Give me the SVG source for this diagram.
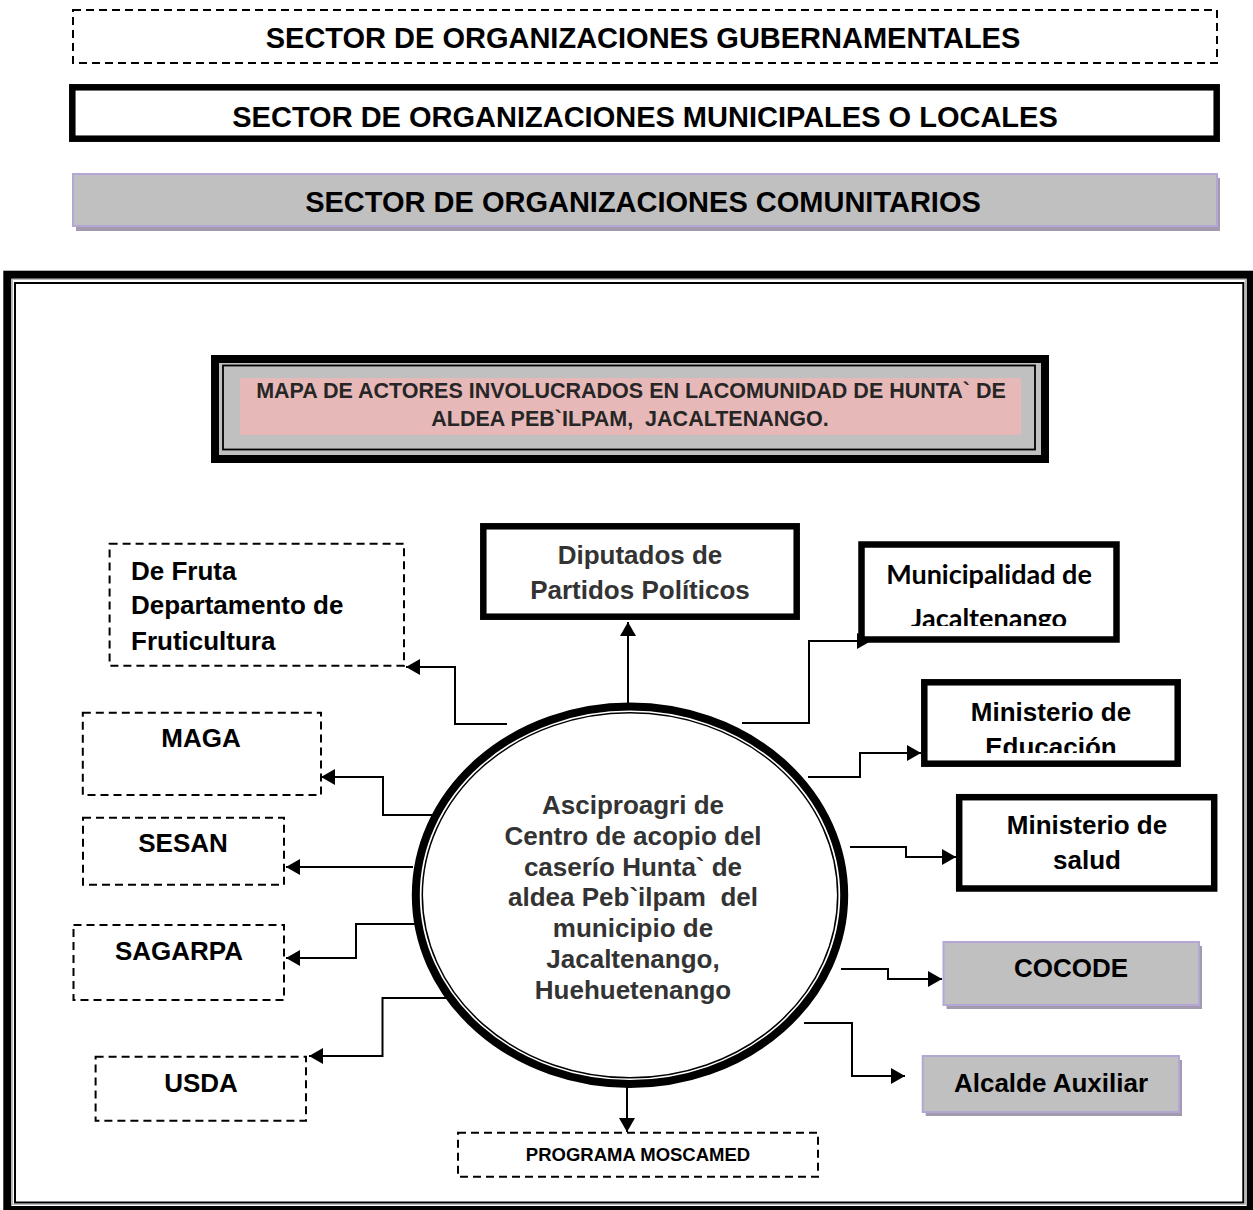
<svg xmlns="http://www.w3.org/2000/svg" width="1253" height="1210" viewBox="0 0 1253 1210">
<defs>
<style>
.t{font-family:"Liberation Sans",Arial,sans-serif;font-weight:bold;text-anchor:middle;fill:#000}
.tl{font-family:"Liberation Sans",Arial,sans-serif;font-weight:bold;fill:#000}
.cal{font-family:Lato,"Liberation Sans",sans-serif;font-weight:bold;text-anchor:middle;fill:#000}
.dash{fill:#fff;stroke:#000;stroke-width:2;stroke-dasharray:8 5}
.thick{fill:#fff;stroke:#000;stroke-width:6.5}
.comm{fill:#c0c0c0;stroke:#b4a7d6;stroke-width:2}
.shadow{fill:#a39bad}
.conn{fill:none;stroke:#000;stroke-width:2;marker-end:url(#arr)}
</style>
<marker id="arr" viewBox="0 0 14 16" refX="14" refY="8" markerWidth="14" markerHeight="16" markerUnits="userSpaceOnUse" orient="auto"><path d="M0,0 L14,8 L0,16 z" fill="#000"/></marker>
<clipPath id="clipMuni"><rect x="862" y="546" width="254" height="80"/></clipPath>
<clipPath id="clipEdu"><rect x="925" y="684" width="252" height="69"/></clipPath>
</defs>
<rect width="1253" height="1210" fill="#fff"/>

<g id="legend-gubernamentales">
<rect class="dash" x="73" y="10" width="1144" height="53"/>
<text class="t" x="643" y="48" font-size="29">SECTOR DE ORGANIZACIONES GUBERNAMENTALES</text>
</g>
<g id="legend-municipales">
<rect class="thick" x="72.3" y="87.3" width="1144.4" height="51.4"/>
<text class="t" x="645" y="127" font-size="29">SECTOR DE ORGANIZACIONES MUNICIPALES O LOCALES</text>
</g>
<g id="legend-comunitarios">
<rect class="shadow" x="76" y="178" width="1144" height="53"/>
<rect class="comm" x="73" y="174" width="1144" height="52"/>
<text class="t" x="643" y="212" font-size="29">SECTOR DE ORGANIZACIONES COMUNITARIOS</text>
</g>

<g id="frame">
<rect x="7.3" y="274.7" width="1243.4" height="935.3" fill="none" stroke="#000" stroke-width="8"/>
<rect x="12.3" y="279.3" width="1233" height="925" fill="none" stroke="#aaa" stroke-width="1"/>
<rect x="15" y="283" width="1228.3" height="919.5" fill="none" stroke="#000" stroke-width="2"/>
</g>

<g id="title">
<rect x="211" y="355" width="838" height="108" fill="#c0c0c0"/>
<rect x="215" y="359" width="830" height="100" fill="none" stroke="#000" stroke-width="8"/>
<rect x="223" y="365.5" width="812" height="84" fill="none" stroke="#000" stroke-width="1.8"/>
<rect x="240" y="378" width="781" height="57" fill="#e6b9b8"/>
<text class="t" x="631" y="398" font-size="21.5" style="fill:#262626">MAPA DE ACTORES INVOLUCRADOS EN LACOMUNIDAD DE HUNTA` DE</text>
<text class="t" x="630" y="426" font-size="21.5" style="fill:#262626" xml:space="preserve">ALDEA PEB`ILPAM,  JACALTENANGO.</text>
</g>

<g id="connectors">
<path class="conn" d="M628,703 V622"/>
<path class="conn" d="M742,723 H809 V641 H871"/>
<path class="conn" d="M507,724 H455 V667 H406"/>
<path class="conn" d="M445,815 H383 V777 H321"/>
<path class="conn" d="M413,867 H286"/>
<path class="conn" d="M429,924 H356 V958 H286"/>
<path class="conn" d="M446,998 H382.5 V1056 H309"/>
<path class="conn" d="M808,777 H860 V753 H921"/>
<path class="conn" d="M850,847 H906 V857 H956"/>
<path class="conn" d="M841,969 H888 V979 H942"/>
<path class="conn" d="M804,1023 H852 V1076 H905"/>
<path class="conn" d="M627,1086 V1132"/>
</g>

<g id="center">
<ellipse cx="630" cy="895.3" rx="214.2" ry="188.7" fill="#fff" stroke="#000" stroke-width="8"/>
<ellipse cx="630" cy="895.3" rx="207.7" ry="182.5" fill="none" stroke="#000" stroke-width="1.5"/>
<text class="t" font-size="26" style="fill:#333" xml:space="preserve"><tspan x="633" y="814">Asciproagri de</tspan><tspan x="633" y="845">Centro de acopio del</tspan><tspan x="633" y="876">caserío Hunta` de</tspan><tspan x="633" y="906">aldea Peb`ilpam  del</tspan><tspan x="633" y="937">municipio de</tspan><tspan x="633" y="968">Jacaltenango,</tspan><tspan x="633" y="999">Huehuetenango</tspan></text>
</g>

<g id="diputados">
<rect class="thick" x="483.3" y="526.3" width="313.4" height="90.4"/>
<text class="t" font-size="26" style="fill:#333"><tspan x="640" y="564">Diputados de</tspan><tspan x="640" y="599">Partidos Políticos</tspan></text>
</g>

<g id="municipalidad">
<rect class="thick" x="861.5" y="544.5" width="255" height="95" stroke-width="7"/>
<text class="cal" font-size="27" clip-path="url(#clipMuni)"><tspan x="989" y="584">Municipalidad de</tspan><tspan x="989" y="628">Jacaltenango</tspan></text>
</g>

<g id="educacion">
<rect class="thick" x="924.3" y="682.3" width="253.4" height="81.4"/>
<text class="t" font-size="26" clip-path="url(#clipEdu)"><tspan x="1051" y="721">Ministerio de</tspan><tspan x="1051" y="756">Educación</tspan></text>
</g>

<g id="salud">
<rect class="thick" x="959.2" y="797.2" width="255" height="91.3"/>
<text class="t" font-size="26"><tspan x="1087" y="834">Ministerio de</tspan><tspan x="1087" y="869">salud</tspan></text>
</g>

<g id="cocode">
<rect class="shadow" x="946.5" y="946" width="255.5" height="63"/>
<rect class="comm" x="943.5" y="942" width="255.5" height="63"/>
<text class="t" x="1071" y="977" font-size="26">COCODE</text>
</g>

<g id="alcalde">
<rect class="shadow" x="925.7" y="1060" width="256.3" height="56"/>
<rect class="comm" x="922.7" y="1056" width="256.3" height="56"/>
<text class="t" x="1051" y="1092" font-size="26">Alcalde Auxiliar</text>
</g>

<g id="defruta">
<rect class="dash" x="109.6" y="543.7" width="294.4" height="122"/>
<text class="tl" font-size="26"><tspan x="131" y="580">De Fruta</tspan><tspan x="131" y="614">Departamento de</tspan><tspan x="131" y="650">Fruticultura</tspan></text>
</g>

<g id="maga">
<rect class="dash" x="82.8" y="712.7" width="238.2" height="82.3"/>
<text class="t" x="201" y="747" font-size="26">MAGA</text>
</g>

<g id="sesan">
<rect class="dash" x="83" y="817.7" width="201" height="67"/>
<text class="t" x="183" y="852" font-size="26">SESAN</text>
</g>

<g id="sagarpa">
<rect class="dash" x="73.5" y="925" width="210.5" height="75"/>
<text class="t" x="179" y="960" font-size="26">SAGARPA</text>
</g>

<g id="usda">
<rect class="dash" x="95.6" y="1056.7" width="210.4" height="64"/>
<text class="t" x="201" y="1092" font-size="26">USDA</text>
</g>

<g id="moscamed">
<rect class="dash" x="458" y="1132.7" width="360" height="44"/>
<text class="t" x="638" y="1161" font-size="18.5">PROGRAMA MOSCAMED</text>
</g>
</svg>
